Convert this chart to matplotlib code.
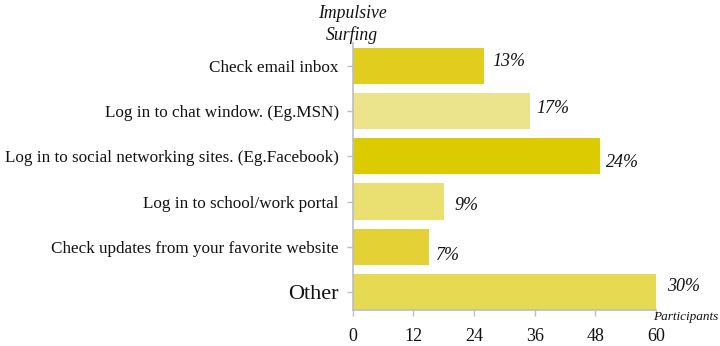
import matplotlib
matplotlib.use("Agg")
import matplotlib.pyplot as plt

categories = ["Check email inbox", "Log in to chat window. (Eg.MSN)",
              "Log in to social networking sites. (Eg.Facebook)",
              "Log in to school/work portal",
              "Check updates from your favorite website", "Other"]
participants = [26, 35, 49, 18, 15, 60]
percent_labels = ["13%", "17%", "24%", "9%", "7%", "30%"]
xticks = [0, 12, 24, 36, 48, 60]

colors = ["#E0CD1E", "#ECE48C", "#DCCB00", "#EAE072", "#E3D136", "#E6DA52"]
label_offsets = [(8, 4), (7, 3), (6, -6), (11, -4), (7, -9), (11, 5)]

plt.rcParams['font.family'] = ['Liberation Serif', 'DejaVu Serif']
fig = plt.figure(figsize=(7.2, 3.46), dpi=100)
ax = fig.add_axes([0.490, 0.104, 0.421, 0.772])

y = list(range(len(categories)))
ax.barh(y, participants, height=0.8, color=colors, edgecolor='none')
ax.set_ylim(5.4, -0.51)
ax.set_xlim(0, 60)
ax.set_yticks(y)
ax.set_yticklabels(categories, fontsize=12.3, color='#111111')
for lbl in ax.get_yticklabels():
    if lbl.get_text() == "Other":
        lbl.set_fontsize(16)
ax.set_xticks(xticks)
ax.set_xticklabels([str(t) for t in xticks], fontsize=13, color='#111111')

for s in ['top', 'right']:
    ax.spines[s].set_visible(False)
for s in ['left', 'bottom']:
    ax.spines[s].set_color('#bdbdbd')
    ax.spines[s].set_linewidth(1.2)
ax.tick_params(axis='both', colors='#bdbdbd', length=4, width=1)
ax.tick_params(axis='y', labelcolor='#111111', pad=6)
ax.tick_params(axis='x', labelcolor='#111111', pad=9)

for yi, v, t, off in zip(y, participants, percent_labels, label_offsets):
    ax.annotate(t, (v, yi), xytext=off, textcoords='offset pixels',
                ha='left', va='center', fontsize=13, style='italic',
                color='#111111')

fig.text(0.489, 0.962, "Impulsive", ha='center', va='center',
         fontsize=12.7, style='italic', color='#111111')
fig.text(0.489, 0.900, "Surfing", ha='center', va='center',
         fontsize=12.7, style='italic', color='#111111')
fig.text(0.998, 0.084, "Participants", ha='right', va='center',
         fontsize=9.5, style='italic', color='#111111')

fig.savefig("out.png", dpi=100)
